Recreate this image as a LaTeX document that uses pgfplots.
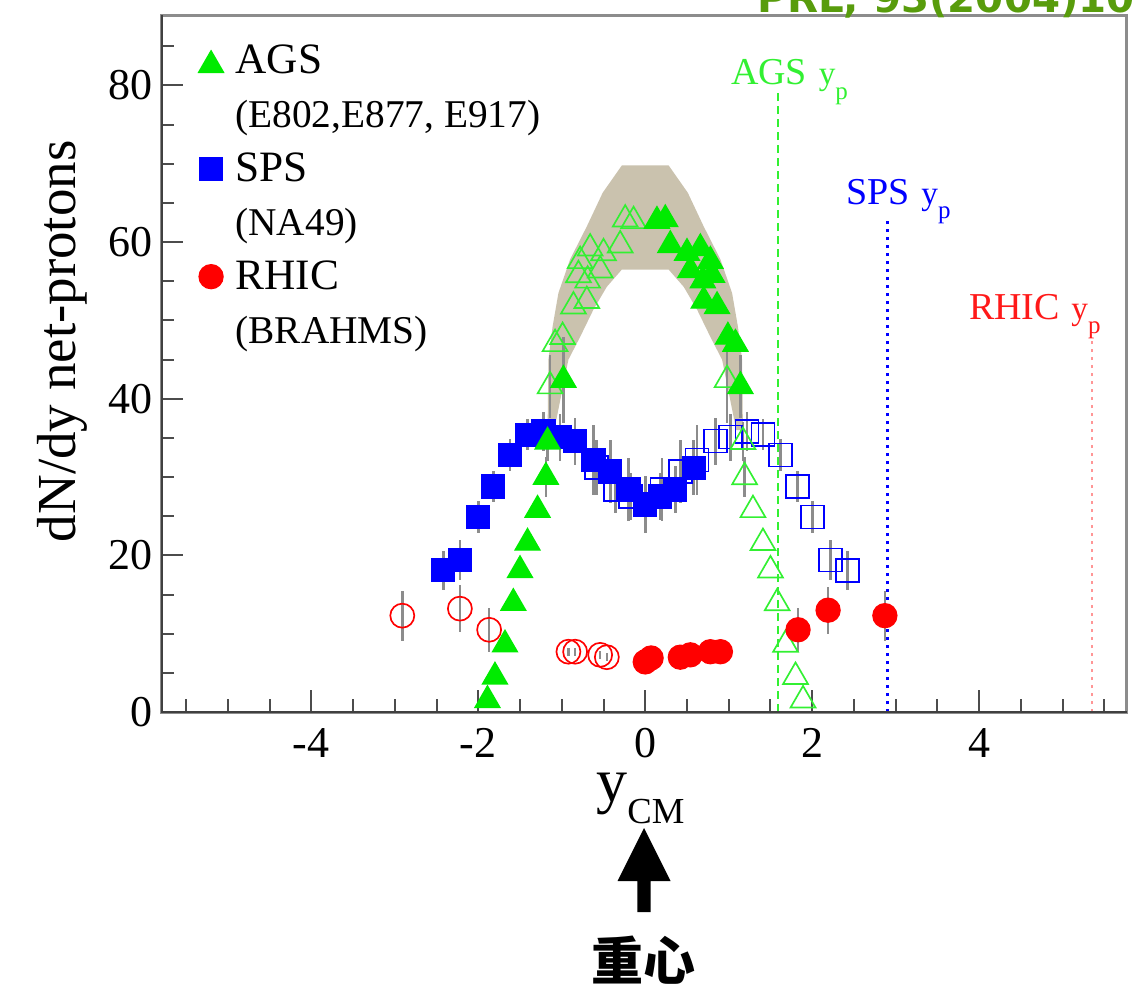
\documentclass[border=0pt]{standalone}
\usepackage{pgfplots}
\pgfplotsset{compat=1.18}
\usepackage{pgfplotstable}
\usepackage{fontspec}
\setmainfont{Liberation Serif}
\newfontfamily\cjk{Noto Sans CJK SC}
\newfontfamily\prlfont{DejaVu Sans}

\definecolor{agsgreen}{RGB}{0,235,0}
\definecolor{agslight}{RGB}{50,240,50}
\definecolor{spsblue}{RGB}{0,0,255}
\definecolor{rhicred}{RGB}{255,0,0}
\definecolor{rhicpink}{RGB}{255,150,150}
\definecolor{bandtan}{RGB}{202,194,174}
\definecolor{prlgreen}{RGB}{88,156,12}

% AGS (E802, E877, E917)
\pgfplotstableread{
x y e
-1.89 1.5 0
-1.80 4.5 0
-1.68 8.6 0
-1.58 13.9 0
-1.50 18.1 0
-1.41 21.6 0
-1.29 25.8 0
-1.19 30.0 2.5
-1.17 34.5 2.5
-0.98 42.4 5.5
0.14 62.7 0
0.24 62.9 0
0.30 59.6 0
0.50 58.6 0
0.54 56.4 0
0.66 59.2 0
0.69 55.1 0
0.70 52.5 0
0.78 57.6 0
0.80 55.8 0
0.86 51.8 0
0.99 47.9 0
1.08 47.0 0
1.14 41.6 4
}\agsfilled
\pgfplotstableread{
x y e
1.89 1.5 0
1.80 4.5 0
1.68 8.6 0
1.58 13.9 0
1.50 18.1 0
1.41 21.6 0
1.29 25.8 0
1.19 30.0 2.5
1.17 34.5 2.5
0.98 42.4 5.5
-0.14 62.7 0
-0.24 62.9 0
-0.30 59.6 0
-0.50 58.6 0
-0.54 56.4 0
-0.66 59.2 0
-0.69 55.1 0
-0.70 52.5 0
-0.78 57.6 0
-0.80 55.8 0
-0.86 51.8 0
-0.99 47.9 0
-1.08 47.0 0
-1.14 41.6 4
}\agsopen

% SPS (NA49)
\pgfplotstableread{
x y e
-2.42 18.1 2.5
-2.22 19.4 2.5
-2.00 24.9 2
-1.82 28.8 2
-1.62 32.8 2
-1.41 35.4 2
-1.22 35.8 2.5
-1.02 35.1 3
-0.84 34.6 3
-0.62 32.2 4.5
-0.42 30.7 4
-0.20 28.4 4
0.00 26.5 3.6
0.18 27.5 3
0.36 28.4 3
0.58 31.2 3.5
}\spsfilled
\pgfplotstableread{
x y e
2.42 18.1 2.5
2.22 19.4 2.5
2.00 24.9 2
1.82 28.8 2
1.62 32.8 2
1.41 35.4 2
1.22 35.8 2.5
1.02 35.1 3
0.84 34.6 3
0.62 32.2 4.5
0.42 30.7 4
0.20 28.4 4
-0.18 27.5 3
-0.36 28.4 3
-0.58 31.2 3.5
}\spsopen

% RHIC (BRAHMS)
\pgfplotstableread{
x y e
0.00 6.4 0.5
0.07 6.9 0.5
0.42 7.0 0.5
0.54 7.3 0.5
0.78 7.7 0.5
0.90 7.7 0.5
1.83 10.5 2.8
2.19 13.0 3
2.87 12.3 3.2
}\rhicfilled
\pgfplotstableread{
x y e
-0.46 7.0 0.5
-0.54 7.3 0.5
-0.84 7.7 0.5
-0.92 7.7 0.5
-1.87 10.5 2.8
-2.22 13.2 3
-2.91 12.3 3.2
}\rhicopen

\begin{document}
\begin{tikzpicture}
\path[use as bounding box] (-48.3pt,-84.3pt) rectangle (292.2pt,213.6pt);
\begin{axis}[
    scale only axis,
    width=289.8pt, height=209.1pt,
    xmin=-5.8, xmax=5.77, ymin=0, ymax=89,
    xtick={-4,-2,0,2,4},
    minor xtick={-5.5,-5,...,5.5},
    ytick={0,20,40,60,80},
    minor ytick={5,10,...,85},
    tick align=inside,
    xtick pos=bottom, ytick pos=left,
    major tick length=6.5pt, minor tick length=3.8pt,
    tick style={black!70, line width=0.6pt},
    axis line style={black!45, line width=0.9pt},
    /pgf/number format/assume math mode=true,
    tick label style={font=\fontsize{13.2}{15}\selectfont},
    xticklabel style={inner sep=0pt, yshift=-4.8pt},
    yticklabel style={inner sep=0pt, xshift=-2.4pt},
    ylabel={dN/dy net-protons},
    ylabel style={font=\fontsize{16.5}{19}\selectfont, at={(axis description cs:-0.1025,0.532)}, anchor=center, inner sep=0pt},
    xlabel={y\raisebox{-6.6pt}{\fontsize{11}{13}\selectfont CM}},
    xlabel style={font=\fontsize{18.6}{22}\selectfont, at={(axis description cs:0.4964,-0.0861)}, anchor=north, inner sep=0pt},
    legend cell align=left,
    legend style={at={(axis description cs:0.0383,0.9742)}, anchor=north west,
        draw=none, fill=none, inner sep=0pt, row sep=0pt, column sep=3.6pt,
        nodes={inner sep=0pt, text depth=4.35pt}, font=\fontsize{13}{15.6}\selectfont},
    error bars/y dir=both, error bars/y explicit,
    error bars/error mark=none,
    error bars/error bar style={black!45, line width=0.8pt, solid},
]
% systematic band
\addplot[fill=bandtan, draw=none, forget plot] coordinates {
(-1.17,36) (-1.16,45) (-1.11,49.2) (-1.04,53.5) (-0.9,57.8) (-0.7,62) (-0.51,66.3) (-0.28,69.8)
(0.28,69.8) (0.51,66.3) (0.7,62) (0.9,57.8) (1.04,53.5) (1.11,49.2) (1.16,45) (1.17,36)
(1.09,36) (1.0,40.8) (0.92,45) (0.78,47.9) (0.62,51.4) (0.46,54.3) (0.28,56.5)
(-0.28,56.5) (-0.46,54.3) (-0.62,51.4) (-0.78,47.9) (-0.92,45) (-1.0,40.8) (-1.09,36)
};

% beam rapidities
\addplot[agslight, line width=0.6pt, dash pattern=on 2.4pt off 1.5pt, forget plot] coordinates {(1.59,0) (1.59,79.1)};
\addplot[spsblue, line width=0.7pt, dash pattern=on 1pt off 1.4pt, forget plot] coordinates {(2.90,0) (2.90,62.9)};
\addplot[rhicpink, line width=0.6pt, dash pattern=on 1pt off 1.4pt, forget plot] coordinates {(5.35,0) (5.35,47.5)};

\node[anchor=base west, inner sep=0pt, text=agslight, font=\fontsize{11.4}{13}\selectfont] at (axis cs:1.02,80.1)
  {AGS\hspace{3.5pt}{\fontsize{10}{12}\selectfont y}\raisebox{-4.5pt}{\fontsize{7.5}{9}\selectfont p}};
\node[anchor=base west, inner sep=0pt, text=spsblue, font=\fontsize{11.4}{13}\selectfont] at (axis cs:2.40,64.8)
  {SPS\hspace{3.5pt}{\fontsize{10}{12}\selectfont y}\raisebox{-4.3pt}{\fontsize{7.5}{9}\selectfont p}};
\node[anchor=base west, inner sep=0pt, text=rhicred!90, font=\fontsize{11.4}{13}\selectfont] at (axis cs:3.87,50.1)
  {RHIC\hspace{3.5pt}{\fontsize{10}{12}\selectfont y}\raisebox{-4.3pt}{\fontsize{7.5}{9}\selectfont p}};

% data
\addplot[only marks, mark=o, mark size=3.6pt, rhicred, mark options={line width=0.5pt}, forget plot]
  table[x=x, y=y, y error=e] {\rhicopen};
\addplot[only marks, mark=square, mark size=3.45pt, spsblue, mark options={line width=0.5pt}, forget plot]
  table[x=x, y=y, y error=e] {\spsopen};
\addplot[only marks, mark=triangle, mark size=4.3pt, agslight, mark options={line width=0.5pt}, forget plot]
  table[x=x, y=y, y error=e] {\agsopen};
\addplot[only marks, mark=square*, mark size=3.45pt, spsblue, mark options={fill=spsblue}, forget plot]
  table[x=x, y=y, y error=e] {\spsfilled};
\addplot[only marks, mark=triangle*, mark size=4.3pt, agsgreen, mark options={fill=agsgreen}, forget plot]
  table[x=x, y=y, y error=e] {\agsfilled};
\addplot[only marks, mark=*, mark size=3.6pt, rhicred, mark options={fill=rhicred}, forget plot]
  table[x=x, y=y, y error=e] {\rhicfilled};

% legend
\addlegendimage{legend image code/.code={\draw[agsgreen, fill=agsgreen, only marks, mark=triangle*, mark size=4.3pt] plot coordinates {(0pt,-1.35pt)};}}
\addlegendentry{\rule{0pt}{11.85pt}AGS}
\addlegendimage{empty legend}
\addlegendentry{\rule{0pt}{11.85pt}\fontsize{11.8}{14}\selectfont (E802,E877, E917)}
\addlegendimage{legend image code/.code={\draw[spsblue, fill=spsblue, only marks, mark=square*, mark size=3.45pt] plot coordinates {(0pt,0pt)};}}
\addlegendentry{\rule{0pt}{11.85pt}SPS}
\addlegendimage{empty legend}
\addlegendentry{\rule{0pt}{11.85pt}\fontsize{11.8}{14}\selectfont (NA49)}
\addlegendimage{legend image code/.code={\draw[rhicred, fill=rhicred, only marks, mark=*, mark size=3.6pt] plot coordinates {(0pt,0pt)};}}
\addlegendentry{\rule{0pt}{11.85pt}RHIC}
\addlegendimage{empty legend}
\addlegendentry{\rule{0pt}{11.85pt}\fontsize{11.8}{14}\selectfont (BRAHMS)}

% frame: darker left and bottom lines
\draw[black!75, line width=0.9pt] (rel axis cs:0,1) -- (rel axis cs:0,0) -- (rel axis cs:1,0);
\end{axis}

% annotations below and above the plot
\fill[black] (142.9pt,-60pt) -- (146.9pt,-60pt) -- (146.9pt,-50.7pt) -- (152.85pt,-50.7pt)
  -- (144.9pt,-34.8pt) -- (136.95pt,-50.7pt) -- (142.9pt,-50.7pt) -- cycle;
\node[font=\cjk\bfseries\fontsize{15.6}{18}\selectfont, inner sep=0pt] at (144.6pt,-74.4pt) {重心};
\node[anchor=base west, inner sep=0pt, text=prlgreen, font=\prlfont\bfseries\fontsize{12.1}{14}\selectfont]
  at (178.8pt,210pt) {PRL, 93(2004)102301};
\end{tikzpicture}
\end{document}
